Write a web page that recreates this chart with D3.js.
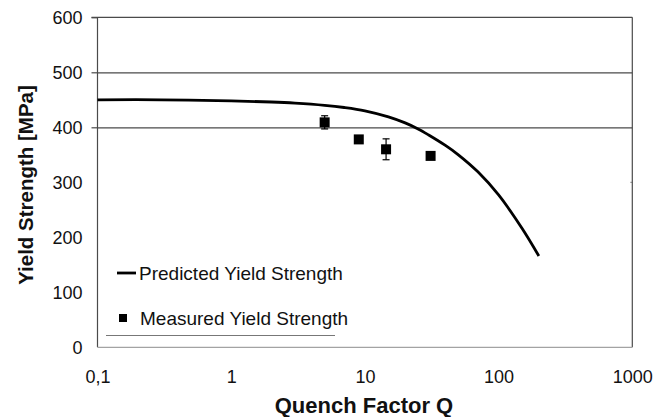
<!DOCTYPE html>
<html>
<head>
<meta charset="utf-8">
<script src="https://cdn.jsdelivr.net/npm/d3@7/dist/d3.min.js"></script>
<style>
  html, body { margin: 0; padding: 0; background: #fff; }
  svg { display: block; font-family: "Liberation Sans", Arial, sans-serif; }
</style>
</head>
<body>
<svg id="chart" width="665" height="417"></svg>
<script>
// Predicted yield strength vs. quench factor (model curve)
const predictedQ = [0.1, 0.3, 1, 2, 3, 5, 7, 10, 15, 20, 25, 30, 40, 50, 70, 100, 150, 200];
const predictedYS = [450, 450, 448, 446, 444, 440, 436, 430, 419, 408, 397, 386, 367, 350, 319, 277, 216, 166];

// Measured yield strength with scatter
const measuredQ = [5, 9, 14.4, 31];
const measuredYS = [409, 378, 360, 348];
const measuredErr = [12, 0, 19, 0];

// Axis ticks
const xTicks = [0.1, 1, 10, 100, 1000];
const xTickLabels = ["0,1", "1", "10", "100", "1000"];
const yTicks = [0, 100, 200, 300, 400, 500, 600];
const yGridValues = [400, 500];
const yMarkedTicks = [400, 500, 600];

const legendLabels = ["Predicted Yield Strength", "Measured Yield Strength"];

const svg = d3.select("#chart");
const plotL = 97.5, plotR = 632.3, plotT = 17.3, plotB = 347.3;

const x = d3.scaleLog().domain([0.1, 1000]).range([plotL, plotR]);
const y = d3.scaleLinear().domain([0, 600]).range([plotB, plotT]);

const axisColor = "#4a4a4a";

// Horizontal gridlines
const grid = svg.append("g")
  .attr("transform", `translate(${plotL},0)`)
  .call(d3.axisLeft(y).tickValues(yGridValues).tickSize(-(plotR - plotL)).tickFormat(""));
grid.select(".domain").remove();
grid.selectAll("line").attr("stroke", axisColor).attr("stroke-width", 1.2);

// Left tick marks on the upper values
const tk = svg.append("g")
  .attr("transform", `translate(${plotL},0)`)
  .call(d3.axisLeft(y).tickValues(yMarkedTicks).tickSize(6).tickFormat(""));
tk.select(".domain").remove();
tk.selectAll("line").attr("stroke", axisColor).attr("stroke-width", 1.2);

// Small tick on the right border
svg.append("line")
  .attr("x1", plotR - 2).attr("x2", plotR)
  .attr("y1", y(300)).attr("y2", y(300))
  .attr("stroke", "#888").attr("stroke-width", 1);

// Plot frame: top, right, left, bottom
svg.append("line").attr("x1", plotL - 6).attr("x2", plotR).attr("y1", plotT).attr("y2", plotT)
  .attr("stroke", axisColor).attr("stroke-width", 1.2);
svg.append("line").attr("x1", plotR).attr("x2", plotR).attr("y1", plotT).attr("y2", plotB)
  .attr("stroke", axisColor).attr("stroke-width", 1.2);
svg.append("line").attr("x1", plotL).attr("x2", plotL).attr("y1", plotT).attr("y2", plotB)
  .attr("stroke", axisColor).attr("stroke-width", 1.2);
svg.append("line").attr("x1", plotL).attr("x2", plotR).attr("y1", plotB).attr("y2", plotB)
  .attr("stroke", "#a3a3a3").attr("stroke-width", 1.2);

// Y axis labels
const yAxis = svg.append("g")
  .attr("transform", `translate(${plotL},0)`)
  .call(d3.axisLeft(y).tickValues(yTicks).tickSize(0).tickPadding(15));
yAxis.select(".domain").remove();
yAxis.selectAll("text")
  .attr("font-size", 18).attr("fill", "#111")
  .style("font-family", "'Liberation Sans', Arial, sans-serif");

// X axis labels
const xAxis = svg.append("g")
  .attr("transform", `translate(0,${plotB})`)
  .call(d3.axisBottom(x).tickValues(xTicks).tickSize(0).tickPadding(23)
    .tickFormat((d, i) => xTickLabels[i]));
xAxis.select(".domain").remove();
xAxis.selectAll("text")
  .attr("font-size", 18).attr("fill", "#111")
  .style("font-family", "'Liberation Sans', Arial, sans-serif");

// Axis titles
svg.append("text")
  .attr("x", 364).attr("y", 413)
  .attr("text-anchor", "middle")
  .attr("font-size", 22).attr("font-weight", "bold").attr("fill", "#111")
  .text("Quench Factor Q");
svg.append("text")
  .attr("transform", "translate(33,185) rotate(-90)")
  .attr("text-anchor", "middle")
  .attr("font-size", 20.5).attr("font-weight", "bold").attr("fill", "#111")
  .text("Yield Strength [MPa]");

// Predicted curve
const predicted = predictedQ.map((q, i) => ({ q, v: predictedYS[i] }));
const line = d3.line().x(d => x(d.q)).y(d => y(d.v)).curve(d3.curveCatmullRom.alpha(0.5));
svg.append("path")
  .datum(predicted)
  .attr("d", line)
  .attr("fill", "none").attr("stroke", "#000").attr("stroke-width", 2.8)
  .attr("stroke-linecap", "butt");

// Measured points with error bars
const measured = measuredQ.map((q, i) => ({ q, v: measuredYS[i], e: measuredErr[i] }));
const eb = svg.append("g").selectAll("g").data(measured.filter(d => d.e > 0)).join("g");
eb.append("line")
  .attr("x1", d => x(d.q)).attr("x2", d => x(d.q))
  .attr("y1", d => y(d.v + d.e)).attr("y2", d => y(d.v - d.e))
  .attr("stroke", "#000").attr("stroke-width", 1.2);
[1, -1].forEach(s => {
  eb.append("line")
    .attr("x1", d => x(d.q) - 3.5).attr("x2", d => x(d.q) + 3.5)
    .attr("y1", d => y(d.v + s * d.e)).attr("y2", d => y(d.v + s * d.e))
    .attr("stroke", "#000").attr("stroke-width", 1.2);
});
const ms = 10;
svg.append("g").selectAll("rect").data(measured).join("rect")
  .attr("x", d => x(d.q) - ms / 2).attr("y", d => y(d.v) - ms / 2)
  .attr("width", ms).attr("height", ms).attr("fill", "#000");

// Legend
const lg = svg.append("g");
lg.append("line").attr("x1", 117).attr("x2", 136).attr("y1", 273).attr("y2", 273)
  .attr("stroke", "#000").attr("stroke-width", 2.8);
lg.append("text").attr("x", 139).attr("y", 273).attr("dy", "0.35em")
  .attr("font-size", 19).attr("fill", "#111").text(legendLabels[0]);
lg.append("rect").attr("x", 119).attr("y", 314).attr("width", 8).attr("height", 8).attr("fill", "#000");
lg.append("text").attr("x", 140).attr("y", 318).attr("dy", "0.35em")
  .attr("font-size", 19).attr("fill", "#111").text(legendLabels[1]);
lg.append("line").attr("x1", 106).attr("x2", 335).attr("y1", 335.5).attr("y2", 335.5)
  .attr("stroke", "#777").attr("stroke-width", 1);
</script>
</body>
</html>
